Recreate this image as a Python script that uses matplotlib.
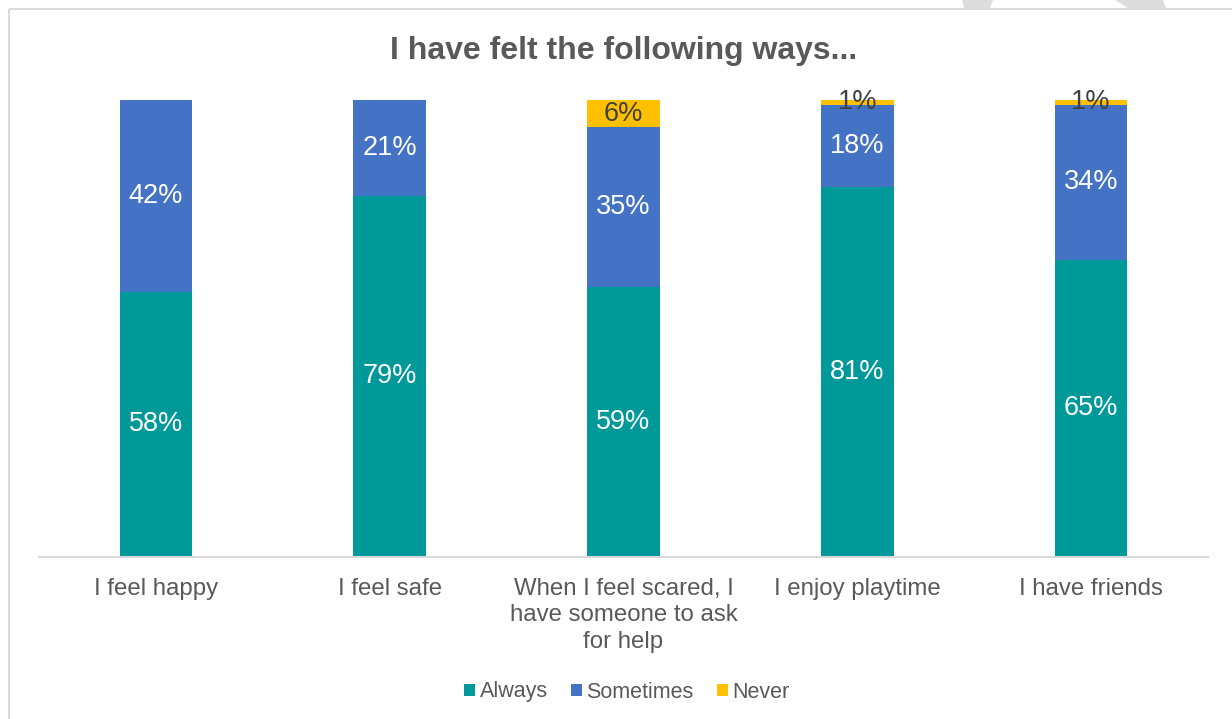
import numpy as np
import matplotlib
matplotlib.use("Agg")
import matplotlib.pyplot as plt
from matplotlib.patches import Patch, Polygon, Rectangle
from matplotlib.transforms import Affine2D

plt.rcParams["font.family"] = ["Liberation Sans", "DejaVu Sans"]

# ---------------------------------------------------------------------------
# Survey responses (% of pupils)
# ---------------------------------------------------------------------------
categories = [
    "I feel happy",
    "I feel safe",
    "When I feel scared, I\nhave someone to ask\nfor help",
    "I enjoy playtime",
    "I have friends",
]
always = [58, 79, 59, 81, 65]
sometimes = [42, 21, 35, 18, 34]
never = [0, 0, 6, 1, 1]

series = [
    ("Always", always, "#009999", "white"),
    ("Sometimes", sometimes, "#4472C4", "white"),
    ("Never", never, "#FFC000", "#404040"),
]

TEXT_GREY = "#595959"
W, H = 1232, 719

fig = plt.figure(figsize=(W / 100, H / 100), dpi=100)
fig.patch.set_facecolor("white")

# pixel-space helper (origin top-left, like the exported image)
px = Affine2D().scale(1 / W, -1 / H).translate(0, 1) + fig.transFigure

# faint watermark strokes peeking in at the top edge
for pts in ([(962, 0), (993, 0), (990, 8), (964, 8)],
            [(1115, 0), (1163, 0), (1166, 8), (1128, 8)]):
    fig.patches.append(Polygon(pts, closed=True, transform=px,
                               facecolor="#dcdcdc", edgecolor="none", zorder=0))

# chart-area frame (runs off the right and bottom of the export)
fig.patches.append(Rectangle((9, 9), 1300, 800, transform=px, fill=False,
                             edgecolor="#d9d9d9", linewidth=1.5, zorder=1))

ax = fig.add_axes([39 / W, (H - 557) / H, (1208 - 39) / W, (557 - 100) / H])

x = np.arange(len(categories))
bottom = np.zeros(len(categories))
for name, vals, color, label_color in series:
    vals = np.array(vals, dtype=float)
    ax.bar(x, vals, bottom=bottom, width=0.31, color=color, label=name,
           linewidth=0)
    for xi, b, v in zip(x, bottom, vals):
        if v > 0:
            ax.text(xi, b + v / 2, f"{v:.0f}%", ha="center", va="center",
                    fontsize=19.5, color=label_color)
    bottom += vals

ax.set_xlim(-0.5, len(categories) - 0.5)
ax.set_ylim(0, 100)
ax.set_yticks([])
ax.set_xticks(x)
ax.set_xticklabels(categories, fontsize=17.3, color=TEXT_GREY, linespacing=1.26)
ax.tick_params(axis="x", length=0, pad=15)
for side in ("top", "right", "left"):
    ax.spines[side].set_visible(False)
ax.spines["bottom"].set_color("#d9d9d9")
ax.spines["bottom"].set_linewidth(1.5)

fig.text(624 / W, 1 - 51 / H, "I have felt the following ways...",
         ha="center", va="center", fontsize=23, fontweight="bold",
         color=TEXT_GREY)

handles = [Patch(facecolor=c, edgecolor="none", label=n) for n, _, c, _ in series]
fig.legend(handles=handles, loc="center", bbox_to_anchor=(627 / W, 1 - 692 / H),
           ncol=3, frameon=False, fontsize=15.5, labelcolor=TEXT_GREY,
           handlelength=0.5, handleheight=0.5, handletextpad=0.2,
           columnspacing=1.1)

fig.savefig("out.png", dpi=100, facecolor="white")
